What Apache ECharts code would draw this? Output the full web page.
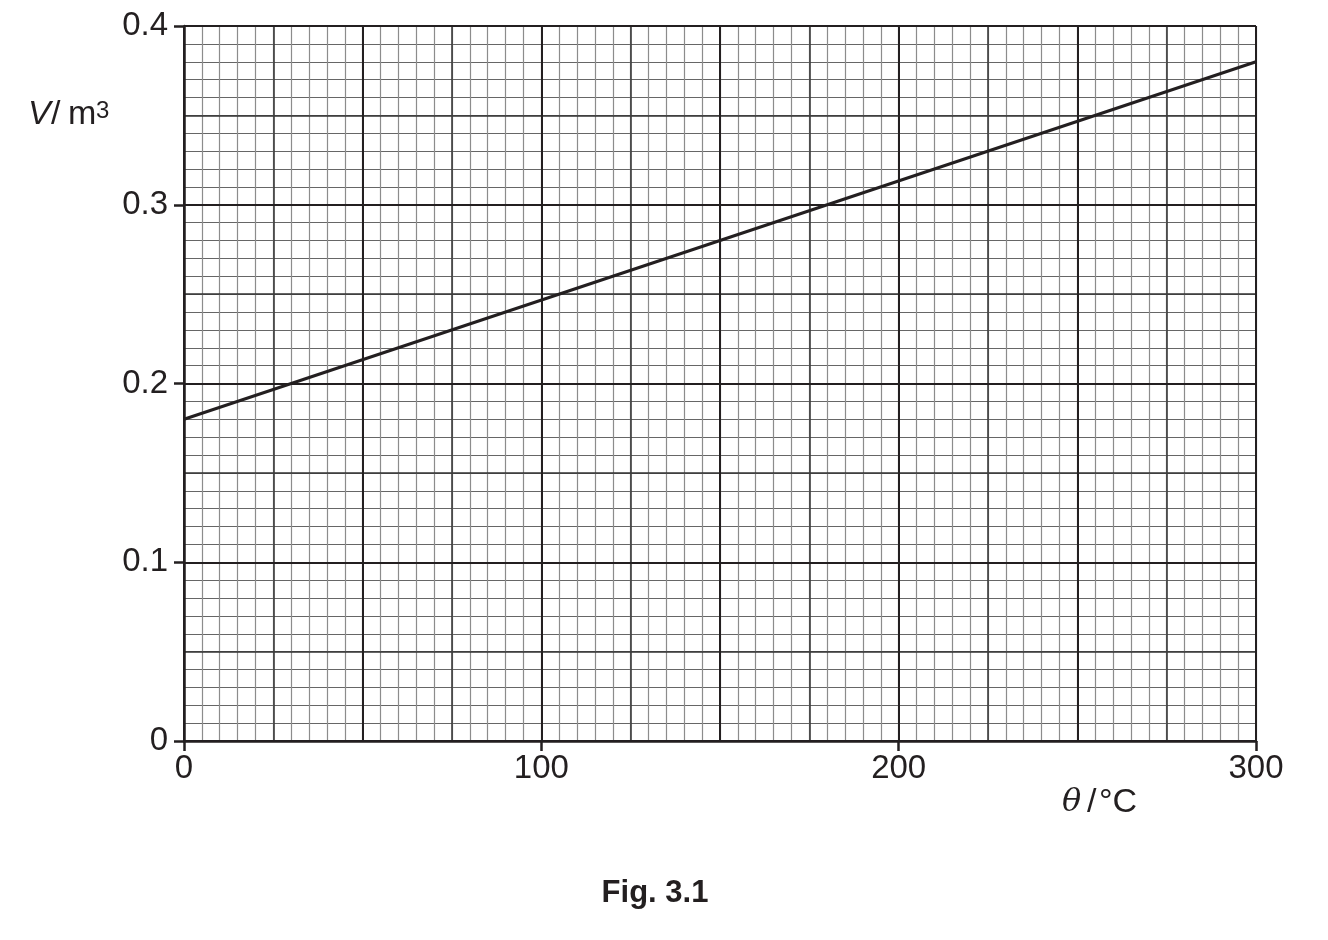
<!DOCTYPE html>
<html>
<head>
<meta charset="utf-8">
<script src="https://cdn.jsdelivr.net/npm/echarts@6/dist/echarts.min.js"></script>
<style>
html,body{margin:0;padding:0;background:#fff;}
#chart{width:1328px;height:940px;}
</style>
</head>
<body>
<div id="chart"></div>
<script>
// Data
var thetaValues = [0, 300];          // θ / °C
var volumeValues = [0.18, 0.38];     // V / m³
var xTickLabels = ['0', '100', '200', '300'];
var yTickLabels = ['0', '0.1', '0.2', '0.3', '0.4'];

var INK = '#231f20';
var FONT = '"Liberation Sans", Arial, sans-serif';

var chart = echarts.init(document.getElementById('chart'), null, {renderer: 'canvas'});

function gridAxis(min, max, interval, color, width, z) {
  return {
    type: 'value', min: min, max: max, interval: interval, z: z,
    axisLine: {show: false}, axisTick: {show: false}, axisLabel: {show: false},
    splitLine: {show: true, lineStyle: {color: color, width: width}}
  };
}

var mainX = {
  type: 'value', min: 0, max: 300, interval: 100, z: 10,
  axisLine: {show: true, onZero: false, lineStyle: {color: INK, width: 2.5}},
  axisTick: {show: true, inside: false, length: 10, lineStyle: {color: INK, width: 2.5}},
  axisLabel: {show: true, fontSize: 33, fontFamily: FONT, color: INK, margin: 11,
    formatter: function (v) { var i = Math.round(v / 100); return xTickLabels[i]; }},
  splitLine: {show: false}
};
var mainY = {
  type: 'value', min: 0, max: 0.4, interval: 0.1, z: 10,
  axisLine: {show: true, onZero: false, lineStyle: {color: INK, width: 2.5}},
  axisTick: {show: true, inside: false, length: 10, lineStyle: {color: INK, width: 2.5}},
  axisLabel: {show: true, fontSize: 33, fontFamily: FONT, color: INK, margin: 16,
    formatter: function (v) { var i = Math.round(v * 10); return yTickLabels[i]; }},
  splitLine: {show: false}
};

var option = {
  backgroundColor: '#ffffff',
  animation: false,
  grid: {left: 184, top: 26, width: 1072, height: 715},
  xAxis: [
    mainX,
    gridAxis(0, 300, 5, '#8c8c8c', 1.2, 1),
    gridAxis(0, 300, 25, '#3c3c3c', 1.6, 2),
    gridAxis(0, 300, 50, INK, 2, 3)
  ],
  yAxis: [
    mainY,
    gridAxis(0, 0.4, 0.01, '#666666', 1.2, 1),
    gridAxis(0, 0.4, 0.05, '#333333', 1.6, 2),
    gridAxis(0, 0.4, 0.1, INK, 2, 3)
  ],
  series: [{
    type: 'line', xAxisIndex: 0, yAxisIndex: 0, z: 20,
    data: thetaValues.map(function (t, i) { return [t, volumeValues[i]]; }),
    showSymbol: false, symbol: 'none',
    lineStyle: {color: INK, width: 3}
  }],
  graphic: [
    {type: 'text', z: 30, style: {text: 'V', x: 28, y: 115, textVerticalAlign: 'middle', textAlign: 'left',
      font: 'italic 34px ' + FONT, fill: INK}},
    {type: 'text', z: 30, style: {text: '/', x: 51, y: 115, textVerticalAlign: 'middle', textAlign: 'left',
      font: '34px ' + FONT, fill: INK}},
    {type: 'text', z: 30, style: {text: 'm', x: 68, y: 115, textVerticalAlign: 'middle', textAlign: 'left',
      font: '34px ' + FONT, fill: INK}},
    {type: 'text', z: 30, style: {text: '3', x: 96, y: 111, textVerticalAlign: 'middle', textAlign: 'left',
      font: '24px ' + FONT, fill: INK}},
    {type: 'text', z: 30, style: {text: 'θ', x: 1062, y: 803, textVerticalAlign: 'middle', textAlign: 'left',
      font: 'italic 32px "DejaVu Serif", "Liberation Serif", serif', fill: INK}},
    {type: 'text', z: 30, style: {text: '/', x: 1087, y: 803, textVerticalAlign: 'middle', textAlign: 'left',
      font: '34px ' + FONT, fill: INK}},
    {type: 'text', z: 30, style: {text: '°C', x: 1099, y: 803, textVerticalAlign: 'middle', textAlign: 'left',
      font: '34px ' + FONT, fill: INK}},
    {type: 'text', z: 30, style: {text: 'Fig. 3.1', x: 655, y: 893, textVerticalAlign: 'middle', textAlign: 'center',
      font: 'bold 31px ' + FONT, fill: INK}}
  ]
};
chart.setOption(option);
</script>
</body>
</html>
